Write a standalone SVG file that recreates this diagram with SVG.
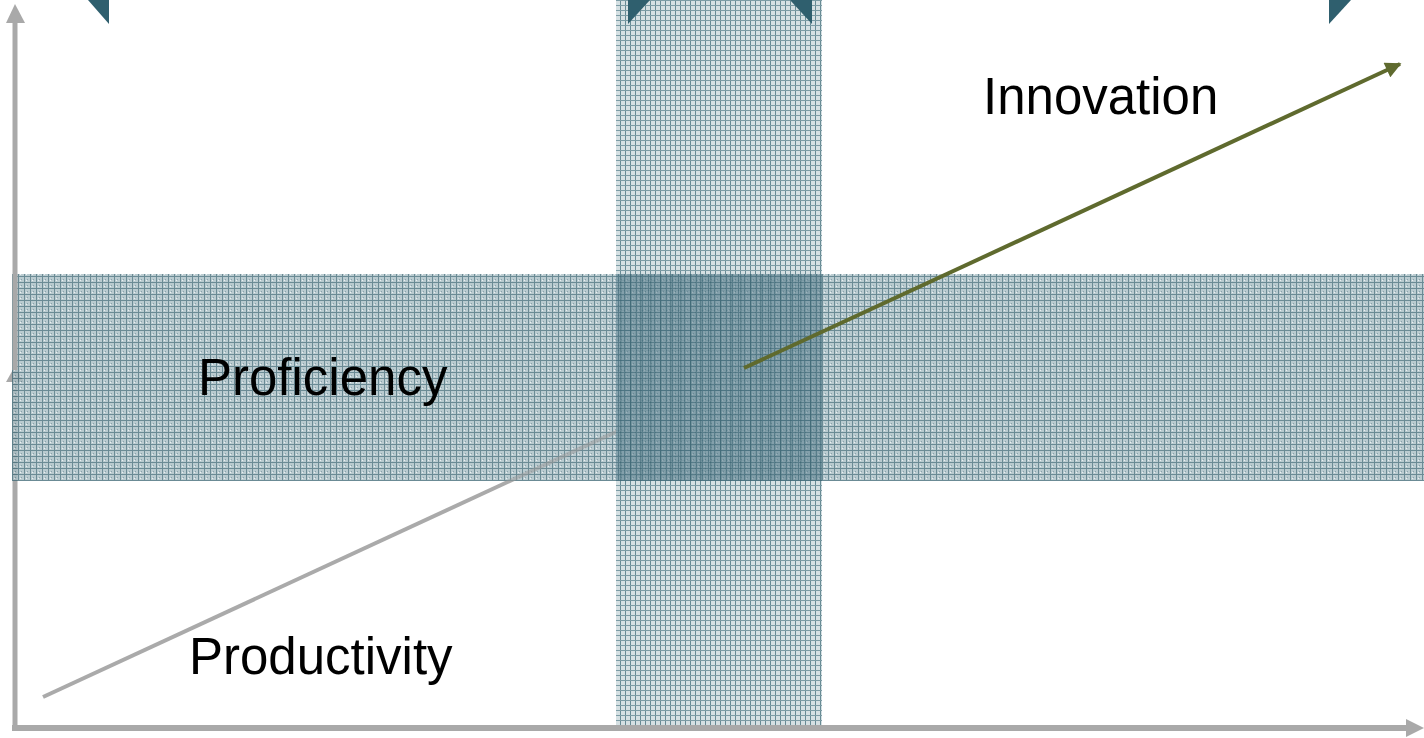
<svg xmlns="http://www.w3.org/2000/svg" width="1424" height="738" viewBox="0 0 1424 738">
  <style>
    .label { font-family: "Liberation Sans", Arial, sans-serif; font-size: 51px; fill: #000000; }
    .axis { stroke: #a9a9a9; stroke-width: 5; fill: none; }
    .axishead { fill: #a9a9a9; }
    .tab { fill: #2f5f6e; }
  </style>
  <defs>
    <pattern id="patH" width="6" height="6" patternUnits="userSpaceOnUse">
      <rect width="6" height="6" fill="#a6bcc3"/>
      <rect x="0" y="0" width="1" height="6" fill="#416a77"/>
      <rect x="0" y="0" width="6" height="1" fill="#416a77"/>
      <rect x="3" y="3" width="1" height="1" fill="#668893"/>
      <rect x="2" y="4" width="1" height="1" fill="#e6edef"/>
    </pattern>
    <pattern id="patV" width="5" height="5" patternUnits="userSpaceOnUse">
      <rect width="5" height="5" fill="#d5e0e3"/>
      <rect x="0" y="0" width="1" height="5" fill="#678a94"/>
      <rect x="0" y="0" width="5" height="1" fill="#7c9ca5"/>
    </pattern>
    <pattern id="patX" width="10" height="10" patternUnits="userSpaceOnUse">
      <rect x="0" y="0" width="1.5" height="10" fill="#3a6572" fill-opacity="0.45"/>
    </pattern>
    <clipPath id="bandClip">
      <rect x="12" y="274" width="604" height="207"/>
    </clipPath>
    <marker id="arrGray" viewBox="0 0 10 10" refX="9" refY="5" markerWidth="4.2" markerHeight="4" orient="auto" markerUnits="strokeWidth">
      <path d="M0,0 L10,5 L0,10 z" fill="#aaaaaa"/>
    </marker>
    <marker id="arrOlive" viewBox="0 0 10 10" refX="9" refY="5" markerWidth="4.2" markerHeight="4" orient="auto" markerUnits="strokeWidth">
      <path d="M0,0 L10,5 L0,10 z" fill="#5f6a2e"/>
    </marker>
  </defs>

  <rect width="1424" height="738" fill="#ffffff"/>

  <!-- lower part of vertical axis (under band) -->
  <g id="axis-lower">
    <line class="axis" x1="15" y1="731" x2="15" y2="378"/>
    <polygon class="axishead" points="6,382 15,366 24,382"/>
  </g>

  <g id="connectors-under">
    <line x1="43" y1="697" x2="700" y2="393" stroke="#aaaaaa" stroke-width="4" marker-end="url(#arrGray)"/>
  </g>

  <g id="band-vertical">
    <rect x="616" y="0" width="206" height="725" fill="url(#patV)"/>
  </g>
  <g id="band-horizontal">
    <rect x="12" y="274" width="1412" height="207" fill="url(#patH)" fill-opacity="0.78"/>
  </g>
  <g id="band-overlap">
    <rect x="616" y="274" width="206" height="207" fill="#4e7684" fill-opacity="0.45"/>
    <rect x="616" y="274" width="206" height="207" fill="url(#patX)"/>
  </g>

  <g id="connectors-through-band" clip-path="url(#bandClip)">
    <line x1="43" y1="697" x2="700" y2="393" stroke="#aaaaaa" stroke-width="4" stroke-opacity="0.55"/>
  </g>

  <g id="axis-upper">
    <line class="axis" x1="15" y1="370" x2="15" y2="20"/>
    <polygon class="axishead" points="6,23 15,4 25,23"/>
  </g>
  <g id="axis-horizontal">
    <line x1="12" y1="728" x2="1408" y2="728" stroke="#a9a9a9" stroke-width="6"/>
    <polygon class="axishead" points="1406,719 1424,728 1406,737"/>
  </g>

  <g id="tabs">
    <polygon class="tab" points="88,0 109,0 109,24"/>
    <polygon class="tab" points="628,0 650,0 628,24"/>
    <polygon class="tab" points="790,0 812,0 812,24"/>
    <polygon class="tab" points="1329,0 1351,0 1329,24"/>
  </g>

  <g id="connectors">
    <line x1="744" y1="368" x2="1400" y2="64" stroke="#5f6a2e" stroke-width="4" marker-end="url(#arrOlive)"/>
  </g>

  <g id="node-innovation">
    <text class="label" x="983" y="114">Innovation</text>
  </g>
  <g id="node-proficiency">
    <text class="label" x="198" y="395">Proficiency</text>
  </g>
  <g id="node-productivity">
    <text class="label" x="189" y="674">Productivity</text>
  </g>
</svg>
